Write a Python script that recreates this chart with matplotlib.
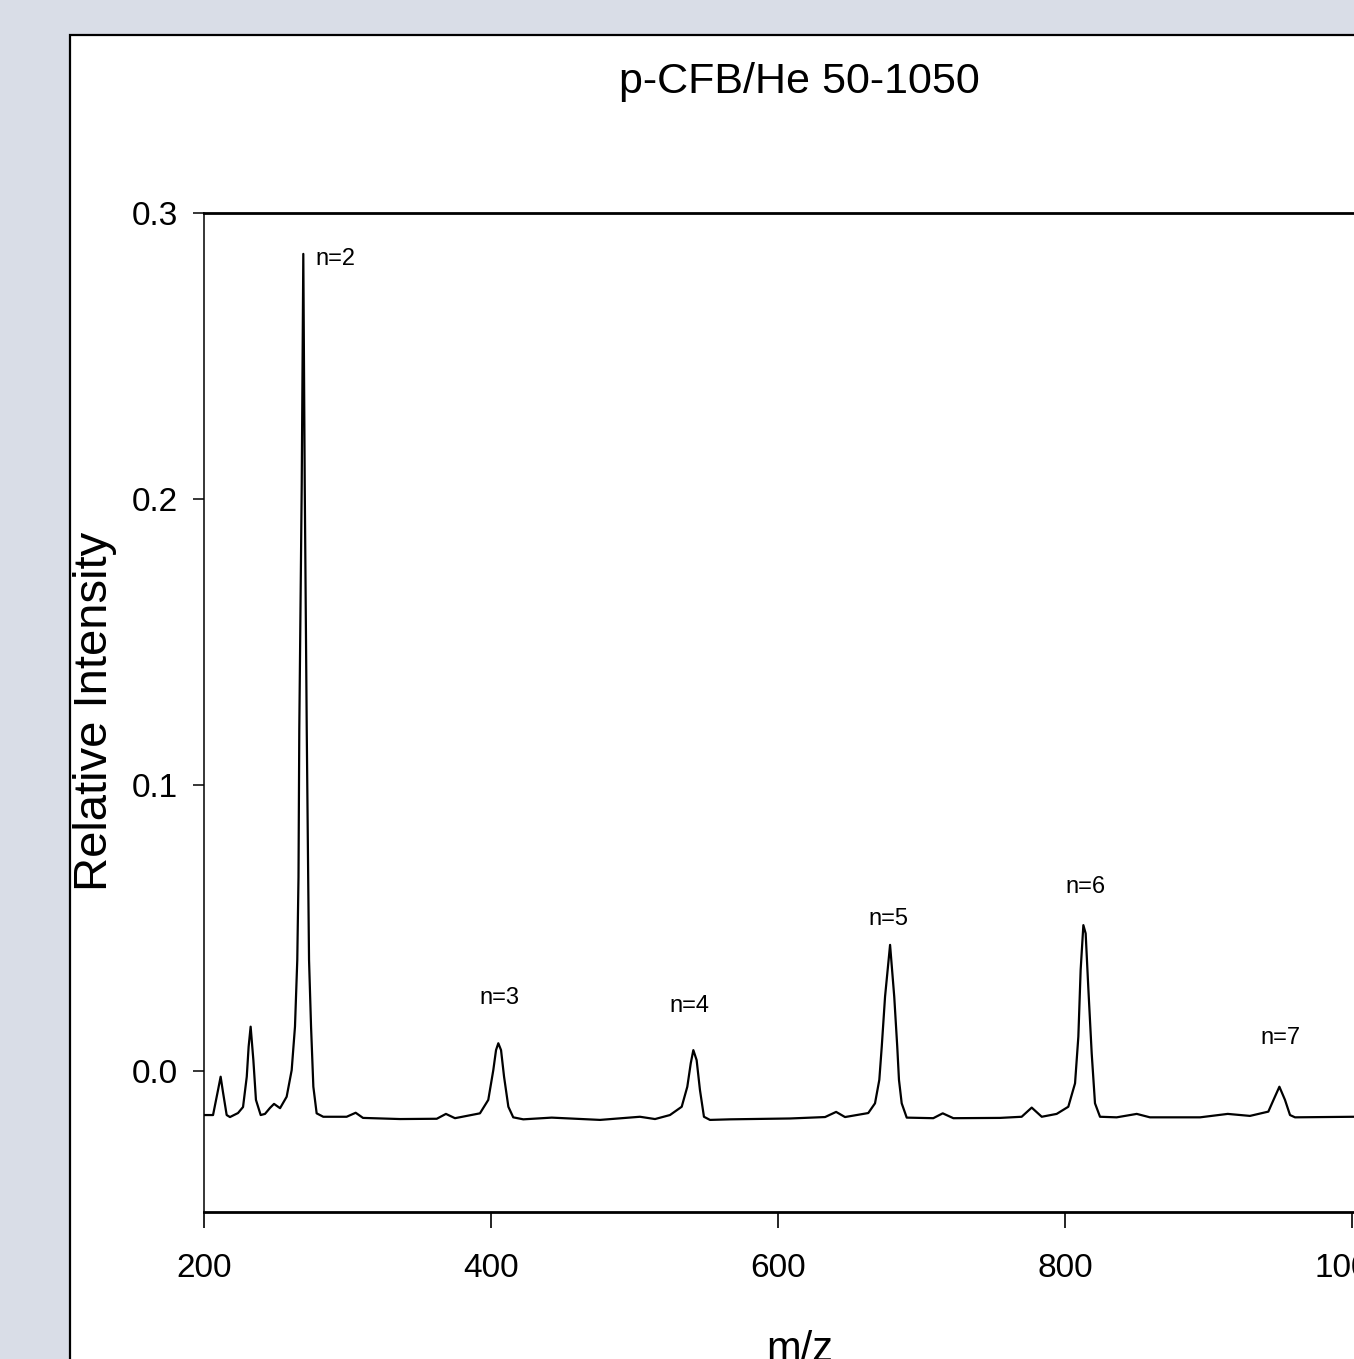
import numpy as np
import matplotlib
matplotlib.use("Agg")
import matplotlib.pyplot as plt
from matplotlib.patches import Rectangle

# spectrum trace (m/z, relative intensity)
mz = [200.0, 206.3, 209.8, 211.6, 213.2, 215.8, 218.1, 223.7, 227.2, 229.8,
      231.1, 232.5, 234.4, 236.2, 239.5, 242.5, 246.0, 248.8, 253.0, 257.6,
      261.1, 263.4, 265.0, 265.85, 266.4, 268.1, 269.2, 270.2, 271.6, 272.6,
      273.2, 274.6, 276.2, 278.5, 283.1, 299.4, 305.7, 310.8, 336.6, 362.2,
      368.6, 374.9, 392.3, 398.1, 401.6, 403.5, 405.1, 407.0, 409.1, 412.1,
      415.5, 422.5, 442.3, 476.0, 503.8, 514.3, 524.7, 532.9, 536.8, 539.2,
      541.0, 543.3, 545.6, 548.4, 552.6, 566.6, 608.4, 632.8, 640.5, 646.7,
      662.9, 667.6, 670.6, 672.3, 674.6, 678.1, 681.0, 683.1, 684.3, 686.2,
      689.7, 708.2, 714.8, 722.2, 754.7, 769.8, 776.8, 783.8, 794.2, 802.3,
      807.0, 809.3, 810.9, 812.8, 814.4, 816.2, 818.6, 820.9, 824.4, 836.0,
      850.0, 859.2, 894.1, 913.4, 928.9, 941.7, 945.3, 949.4, 953.3, 956.8,
      960.3, 1001.4, 1050.0]
intensity = [-0.0154, -0.0154, -0.0066, -0.0020, -0.0073, -0.0154, -0.0161, -0.0147, -0.0126, -0.0020,
             0.0085, 0.0155, 0.0038, -0.0101, -0.0154, -0.0150, -0.0129, -0.0115, -0.0130, -0.0090,
             0.0003, 0.0155, 0.0388, 0.0678, 0.1192, 0.2049, 0.2857, 0.2049, 0.1192, 0.0678,
             0.0388, 0.0155, -0.0055, -0.0148, -0.0160, -0.0160, -0.0146, -0.0164, -0.0168, -0.0167,
             -0.0150, -0.0165, -0.0148, -0.0101, 0.0003, 0.0073, 0.0097, 0.0073, -0.0020, -0.0125,
             -0.0162, -0.0169, -0.0163, -0.0171, -0.0160, -0.0168, -0.0154, -0.0125, -0.0055, 0.0027,
             0.0073, 0.0038, -0.0066, -0.0160, -0.0171, -0.0169, -0.0166, -0.0161, -0.0143, -0.0161,
             -0.0147, -0.0113, -0.0031, 0.0085, 0.0260, 0.0441, 0.0260, 0.0085, -0.0031, -0.0113,
             -0.0163, -0.0165, -0.0148, -0.0165, -0.0164, -0.0160, -0.0128, -0.0160, -0.0150, -0.0125,
             -0.0043, 0.0120, 0.0353, 0.0510, 0.0481, 0.0295, 0.0062, -0.0113, -0.0160, -0.0162,
             -0.0150, -0.0162, -0.0162, -0.0150, -0.0157, -0.0142, -0.0101, -0.0055, -0.0101, -0.0154,
             -0.0162, -0.0160, -0.0160]

# cluster labels
label_text = ["n=2", "n=3", "n=4", "n=5", "n=6", "n=7"]
label_mz = [291.3, 405.6, 538.0, 676.7, 814.0, 950.5]
label_y = [0.2839, 0.0255, 0.0227, 0.0531, 0.0643, 0.0115]

xticks = [200, 400, 600, 800, 1000]
yticks = [0.0, 0.1, 0.2, 0.3]

plt.rcParams['font.family'] = ["Liberation Sans", "DejaVu Sans"]

W, H = 1354, 1359
fig = plt.figure(figsize=(W / 100, H / 100), dpi=100)
fig.patch.set_facecolor("#d9dde7")

# white panel with black frame, running off the right and bottom edges
panel = Rectangle((70 / W, -0.02), 1.1, 1 - 35 / H + 0.02, transform=fig.transFigure,
                  facecolor="white", edgecolor="black", linewidth=1.6, zorder=-1)
fig.patches.append(panel)

ax_left, ax_bottom = 204 / W, 1 - 1212 / H
ax_w = (850 * 1.435) / W
ax_h = (1212 - 213) / H
ax = fig.add_axes([ax_left, ax_bottom, ax_w, ax_h])
ax.set_zorder(2)
ax.set_facecolor("none")

ax.plot(mz, intensity, color="black", linewidth=1.6, solid_joinstyle="round")

for t, x, y in zip(label_text, label_mz, label_y):
    ax.text(x, y, t, ha="center", va="center", fontsize=17)

ax.set_xlim(200, 1050)
ax.set_ylim(-0.0493, 0.3)
ax.set_xticks(xticks)
ax.set_yticks(yticks)
ax.set_xticklabels([str(v) for v in xticks], fontsize=24)
ax.set_yticklabels([f"{v:.1f}" for v in yticks], fontsize=24)
ax.tick_params(axis="x", direction="out", length=11.5, width=1.2, pad=18)
ax.tick_params(axis="y", direction="out", length=8, width=1.1, pad=11)

ax.spines["left"].set_linewidth(1.1)
ax.spines["bottom"].set_linewidth(2.0)
ax.spines["top"].set_linewidth(2.0)
ax.spines["right"].set_linewidth(2.0)

fig.text(799 / W, 1 - 93 / H, "p-CFB/He 50-1050", ha="center", va="baseline",
         fontsize=31)
fig.text(95 / W, 1 - 711 / H, "Relative Intensity", ha="center", va="center",
         rotation=90, fontsize=34)
fig.text(800 / W, 1 - 1330 / H, "m/z", ha="center", va="top", fontsize=30)

fig.savefig("out.png", dpi=100, facecolor=fig.get_facecolor())
